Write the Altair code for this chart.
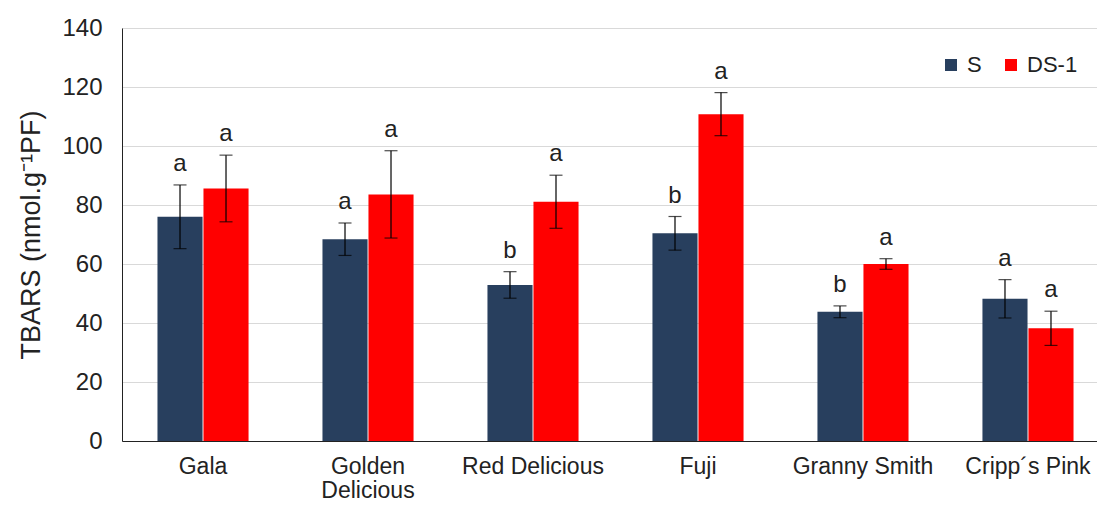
import altair as alt
import pandas as pd

cultivars = ["Gala", "Golden Delicious", "Red Delicious", "Fuji", "Granny Smith", "Cripp´s Pink"]
treatments = ["S", "DS-1"]
s_values = [76.0, 68.4, 52.9, 70.4, 43.8, 48.2]
s_errors = [10.8, 5.5, 4.5, 5.7, 2.0, 6.5]
ds_values = [85.6, 83.6, 81.1, 110.8, 60.0, 38.2]
ds_errors = [11.3, 14.8, 9.0, 7.3, 1.8, 5.8]
s_letters = ["a", "a", "b", "b", "b", "a"]
ds_letters = ["a", "a", "a", "a", "a", "a"]
y_ticks = [0, 20, 40, 60, 80, 100, 120, 140]

rows = []
for i, c in enumerate(cultivars):
    for t, vals, errs, lets in [("S", s_values, s_errors, s_letters),
                                ("DS-1", ds_values, ds_errors, ds_letters)]:
        rows.append({"cultivar": c, "treatment": t, "value": vals[i],
                     "lo": vals[i] - errs[i], "hi": vals[i] + errs[i],
                     "letter": lets[i]})
df = pd.DataFrame(rows)

FONT = "Liberation Sans"
TXT = "#222222"

x = alt.X("cultivar:N", sort=cultivars, title=None,
          scale=alt.Scale(range=[0, 987], paddingInner=0.448, paddingOuter=0.215),
          axis=alt.Axis(labelAngle=0, ticks=False, domainColor="#222222",
                        labelFontSize=23, labelFont=FONT, labelColor=TXT,
                        labelPadding=14, labelLineHeight=24, labelBaseline="top",
                        labelExpr="datum.label == 'Golden Delicious' ? ['Golden', 'Delicious'] : datum.label"))
xo = alt.XOffset("treatment:N", sort=treatments, scale=alt.Scale(paddingInner=0.02))

y = alt.Y("value:Q", scale=alt.Scale(domain=[0, 140]),
          axis=alt.Axis(values=y_ticks, title="TBARS (nmol.g⁻¹PF)", grid=True,
                        gridColor="#d9d9d9", ticks=False, domainColor="#222222",
                        labelFontSize=24, labelFont=FONT, labelColor=TXT,
                        titleFontSize=27, titleFont=FONT, titleColor=TXT,
                        titleFontWeight="normal", labelPadding=20, titlePadding=16))

base = alt.Chart(df)

bars = base.mark_bar().encode(
    x=x, xOffset=xo, y=y,
    color=alt.Color("treatment:N", sort=treatments,
                    scale=alt.Scale(domain=treatments, range=["#283F5E", "#FF0000"]),
                    legend=alt.Legend(title=None, orient="none", legendX=818, legendY=26,
                                      direction="horizontal", symbolType="square",
                                      symbolSize=144, symbolStrokeWidth=0,
                                      labelFontSize=22, labelFont=FONT, labelColor=TXT,
                                      labelOffset=5, columnPadding=18, padding=0))
)

rule = base.mark_rule(color="black", strokeWidth=1.2).encode(
    x=x, xOffset=xo, y=alt.Y("lo:Q"), y2="hi:Q")
cap_lo = base.mark_tick(color="black", size=13, thickness=1.2).encode(
    x=x, xOffset=xo, y=alt.Y("lo:Q"))
cap_hi = base.mark_tick(color="black", size=13, thickness=1.2).encode(
    x=x, xOffset=xo, y=alt.Y("hi:Q"))
letters = base.mark_text(dy=-14, baseline="alphabetic", fontSize=24, font=FONT,
                         color=TXT).encode(
    x=x, xOffset=xo, y=alt.Y("hi:Q"), text="letter:N")

chart = alt.layer(bars, rule, cap_lo, cap_hi, letters).properties(
    width=975, height=413,
    autosize=alt.AutoSizeParams(type="none"),
    padding={"left": 122, "top": 28, "right": 0, "bottom": 65},
).configure_view(stroke=None).configure(background="white")

chart.save("out.html", embed_options={"renderer": "svg", "actions": False})
